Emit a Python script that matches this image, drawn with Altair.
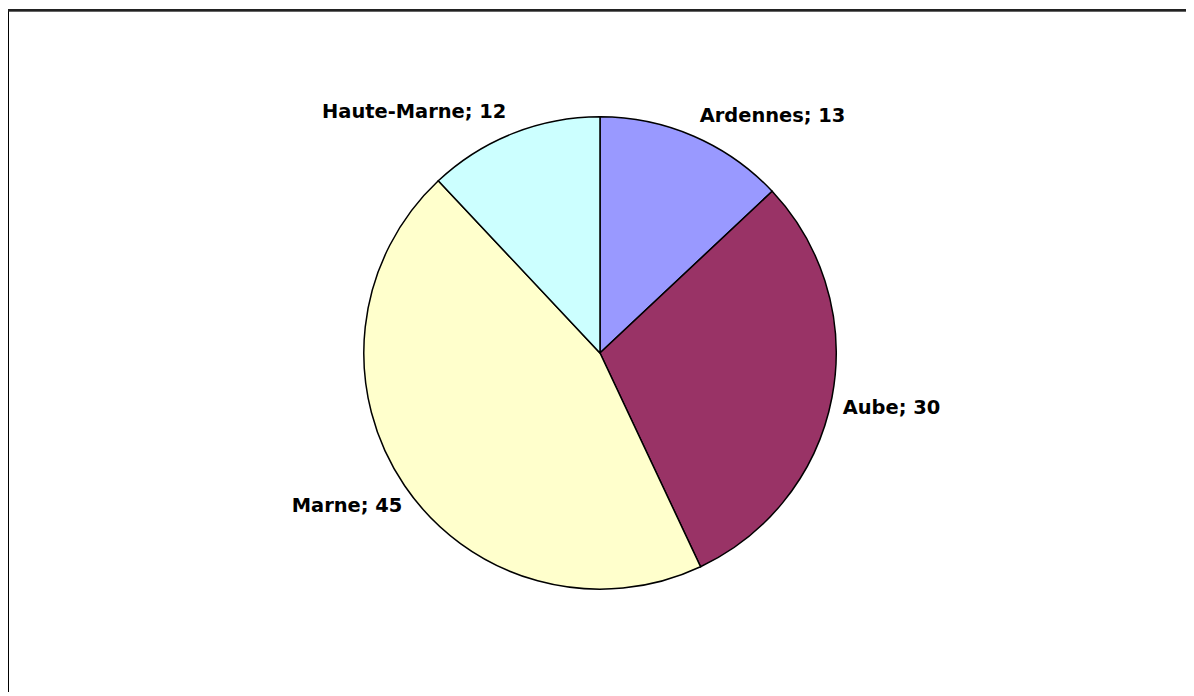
import altair as alt
import pandas as pd

categories = ["Ardennes", "Aube", "Marne", "Haute-Marne"]
values = [13, 30, 45, 12]
colors = ["#9999FF", "#993366", "#FFFFCC", "#CCFFFF"]

df = pd.DataFrame({"cat": categories, "value": values, "rank": list(range(len(categories)))})

base = alt.Chart(df).transform_joinaggregate(
    total="sum(value)"
).transform_window(
    cum="sum(value)", sort=[alt.SortField("rank")], frame=[None, 0]
).transform_calculate(
    mid="(datum.cum - datum.value/2)/datum.total",
    lab="datum.cat + '; ' + datum.value",
)

theta = alt.Theta("value:Q", stack=True)
order = alt.Order("rank:Q", sort="ascending")
color = alt.Color("cat:N", scale=alt.Scale(domain=categories, range=colors), legend=None)

pie = base.mark_arc(radius=237, stroke="black", strokeWidth=1.5).encode(
    theta=theta, order=order, color=color
)

font = dict(font="DejaVu Sans", fontWeight="bold", fontSize=19.5, color="black")


def quadrant_labels(lo, hi, align, radius, dx, dy):
    return base.transform_calculate(
        t=f"datum.mid >= {lo} && datum.mid < {hi} ? datum.lab : ''"
    ).mark_text(radius=radius, align=align, baseline="middle", dx=dx, dy=dy, **font).encode(
        theta=theta, order=order, text="t:N"
    )


q1 = quadrant_labels(0, 0.25, "left", 252, 0, -6)
q2 = quadrant_labels(0.25, 0.5, "left", 252, -4, 8)
q3 = quadrant_labels(0.5, 0.75, "right", 258, 15, 9)
q4 = quadrant_labels(0.75, 1.01, "right", 258, 1, -2)

frame_left = alt.Chart(df).mark_rule(color="black", strokeWidth=2).encode(
    x=alt.value(-6), y=alt.value(-6), y2=alt.value(720)
)
frame_top = alt.Chart(df).mark_rule(color="#222222", strokeWidth=2).encode(
    x=alt.value(-7), x2=alt.value(1200), y=alt.value(-5)
)

chart = alt.layer(frame_left, frame_top, pie, q1, q2, q3, q4).properties(
    width=1176,
    height=678,
    background="white",
    padding={"left": 6, "top": 6, "right": 0, "bottom": 0},
    autosize=alt.AutoSizeParams(type="none"),
).configure_view(stroke=None)

chart.save("out.html", embed_options={"renderer": "svg", "actions": False})
